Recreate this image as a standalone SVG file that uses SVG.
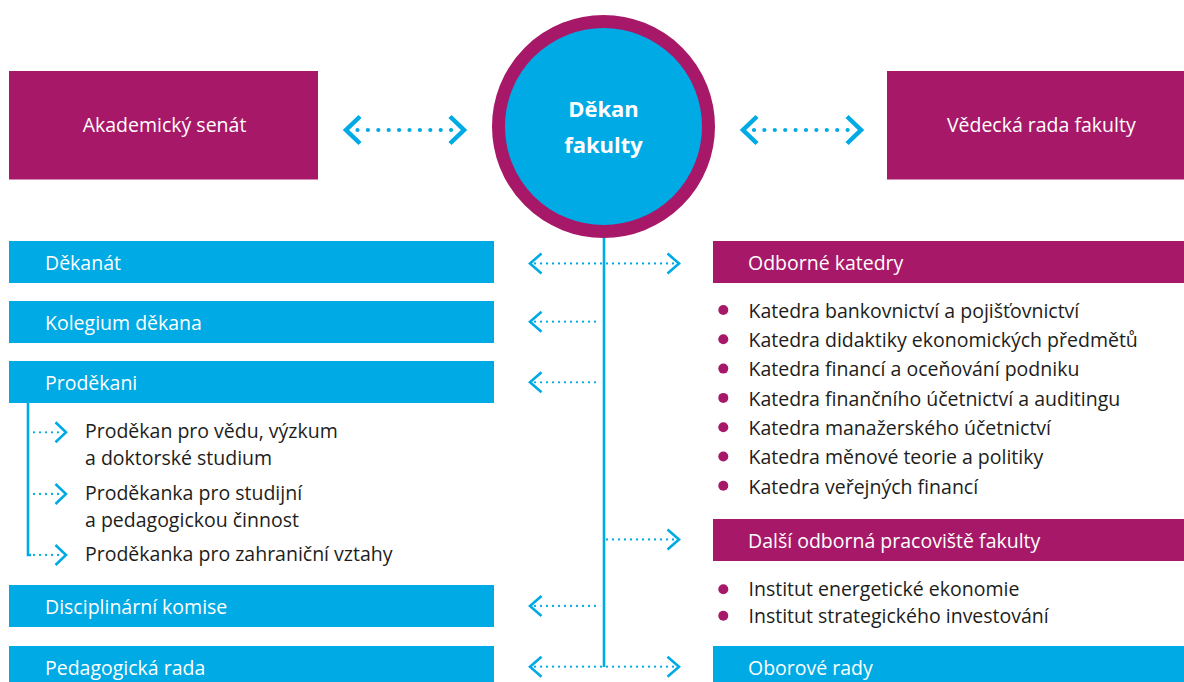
<svg xmlns="http://www.w3.org/2000/svg" width="1184" height="682" viewBox="0 0 1184 682">
<style>
.mag{fill:#A71968}
.blu{fill:#00AAE4}
.t{font-family:"Open Sans","Noto Sans",sans-serif;font-size:19.5px}
.w{fill:#ffffff}
.k{fill:#1d1d1b}
.bul{fill:#A71968}
.dot{stroke:#00AAE4;stroke-width:2.3;stroke-linecap:round;stroke-dasharray:0 6;fill:none}
.bigdot{stroke:#00AAE4;stroke-width:4.2;stroke-linecap:round;stroke-dasharray:0 10.4;fill:none}
.chev{stroke:#00AAE4;stroke-width:2.6;fill:none;stroke-linecap:butt}
.bigchev{stroke:#00AAE4;stroke-width:4.5;fill:none}
.ln{stroke:#00AAE4;stroke-width:2.6;fill:none}
</style>

<g id="connectors">
  <!-- top bidirectional arrows -->
  <line class="bigdot" x1="357.5" y1="130" x2="453" y2="130"/>
  <polyline class="bigchev" points="360,116.5 346,130 360,143.5"/>
  <polyline class="bigchev" points="450,116.5 464,130 450,143.5"/>
  <line class="bigdot" x1="754" y1="130" x2="849.5" y2="130"/>
  <polyline class="bigchev" points="757,116.5 743,130 757,143.5"/>
  <polyline class="bigchev" points="847,116.5 861,130 847,143.5"/>

  <!-- main vertical trunk -->
  <line x1="604" y1="224" x2="604" y2="240" stroke="#ffffff" stroke-width="5"/>
  <line class="ln" x1="604" y1="224" x2="604" y2="667"/>

  <!-- Děkanát (both) -->
  <line class="dot" x1="535" y1="263.5" x2="674" y2="263.5"/>
  <polyline class="chev" points="541.5,253.5 530,263.5 541.5,273.5"/>
  <polyline class="chev" points="667.5,253.5 679,263.5 667.5,273.5"/>
  <!-- Kolegium -->
  <line class="dot" x1="535" y1="321.7" x2="601" y2="321.7"/>
  <polyline class="chev" points="541.5,311.7 530,321.7 541.5,331.7"/>
  <!-- Proděkani -->
  <line class="dot" x1="535" y1="382.3" x2="601" y2="382.3"/>
  <polyline class="chev" points="541.5,372.3 530,382.3 541.5,392.3"/>
  <!-- Další odborná pracoviště -->
  <line class="dot" x1="607" y1="539.5" x2="674" y2="539.5"/>
  <polyline class="chev" points="667.5,529.5 679,539.5 667.5,549.5"/>
  <!-- Disciplinární -->
  <line class="dot" x1="535" y1="606" x2="601" y2="606"/>
  <polyline class="chev" points="541.5,596 530,606 541.5,616"/>
  <!-- Pedagogická / Oborové (both) -->
  <line class="dot" x1="535" y1="666.7" x2="674" y2="666.7"/>
  <polyline class="chev" points="541.5,656.7 530,666.7 541.5,676.7"/>
  <polyline class="chev" points="667.5,656.7 679,666.7 667.5,676.7"/>

  <!-- proděkani branch -->
  <polyline class="ln" points="28,403 28,555 31,555"/>
  <line class="dot" x1="34" y1="432.3" x2="59" y2="432.3"/>
  <polyline class="chev" points="55.5,422.3 66,432.3 55.5,442.3"/>
  <line class="dot" x1="34" y1="494" x2="59" y2="494"/>
  <polyline class="chev" points="55.5,484 66,494 55.5,504"/>
  <line class="dot" x1="34" y1="555" x2="59" y2="555"/>
  <polyline class="chev" points="55.5,545 66,555 55.5,565"/>
</g>

<g id="dekan">
  <circle cx="603.5" cy="126.5" r="105" fill="#00AAE4" stroke="#A71968" stroke-width="13"/>
  <text x="603.5" y="117" text-anchor="middle" font-family="'Open Sans','Noto Sans',sans-serif" font-size="22" font-weight="bold" fill="#ffffff">Děkan</text>
  <text x="603.5" y="153" text-anchor="middle" font-family="'Open Sans','Noto Sans',sans-serif" font-size="22" font-weight="bold" fill="#ffffff">fakulty</text>
</g>

<g id="akademicky-senat">
  <rect class="mag" x="9" y="71" width="309" height="108.5"/>
  <text class="t w" x="164.5" y="131.7" text-anchor="middle">Akademický senát</text>
</g>

<g id="vedecka-rada">
  <rect class="mag" x="887" y="71" width="297" height="108.5"/>
  <text class="t w" x="1041.3" y="131.7" text-anchor="middle">Vědecká rada fakulty</text>
</g>

<g id="dekanat">
  <rect class="blu" x="9" y="241" width="485" height="42"/>
  <text class="t w" x="45" y="270">Děkanát</text>
</g>

<g id="kolegium">
  <rect class="blu" x="9" y="301" width="485" height="42"/>
  <text class="t w" x="45" y="330">Kolegium děkana</text>
</g>

<g id="prodekani">
  <rect class="blu" x="9" y="361" width="485" height="42"/>
  <text class="t w" x="45" y="390">Proděkani</text>
  <text class="t k" x="85" y="438.3">Proděkan pro vědu, výzkum</text>
  <text class="t k" x="85" y="465">a doktorské studium</text>
  <text class="t k" x="85" y="500">Proděkanka pro studijní</text>
  <text class="t k" x="85" y="526.7">a pedagogickou činnost</text>
  <text class="t k" x="85" y="560.5">Proděkanka pro zahraniční vztahy</text>
</g>

<g id="disciplinarni">
  <rect class="blu" x="9" y="585" width="485" height="42"/>
  <text class="t w" x="45" y="613.5">Disciplinární komise</text>
</g>

<g id="pedagogicka">
  <rect class="blu" x="9" y="646" width="485" height="42"/>
  <text class="t w" x="45" y="675">Pedagogická rada</text>
</g>

<g id="odborne-katedry">
  <rect class="mag" x="713" y="241" width="471" height="42"/>
  <text class="t w" x="748" y="270">Odborné katedry</text>
  <circle class="bul" cx="723.3" cy="310" r="5"/>
  <circle class="bul" cx="723.3" cy="339.3" r="5"/>
  <circle class="bul" cx="723.3" cy="368.6" r="5"/>
  <circle class="bul" cx="723.3" cy="397.9" r="5"/>
  <circle class="bul" cx="723.3" cy="427.2" r="5"/>
  <circle class="bul" cx="723.3" cy="456.5" r="5"/>
  <circle class="bul" cx="723.3" cy="485.8" r="5"/>
  <text class="t k" x="748.5" y="317.7">Katedra bankovnictví a pojišťovnictví</text>
  <text class="t k" x="748.5" y="347">Katedra didaktiky ekonomických předmětů</text>
  <text class="t k" x="748.5" y="376.3">Katedra financí a oceňování podniku</text>
  <text class="t k" x="748.5" y="405.6">Katedra finančního účetnictví a auditingu</text>
  <text class="t k" x="748.5" y="434.9">Katedra manažerského účetnictví</text>
  <text class="t k" x="748.5" y="464.2">Katedra měnové teorie a politiky</text>
  <text class="t k" x="748.5" y="493.5">Katedra veřejných financí</text>
</g>

<g id="dalsi-pracoviste">
  <rect class="mag" x="713" y="519" width="471" height="42"/>
  <text class="t w" x="748" y="548.3">Další odborná pracoviště fakulty</text>
  <circle class="bul" cx="723.3" cy="589.3" r="5"/>
  <circle class="bul" cx="723.3" cy="615.7" r="5"/>
  <text class="t k" x="748.5" y="595.7">Institut energetické ekonomie</text>
  <text class="t k" x="748.5" y="623.3">Institut strategického investování</text>
</g>

<g id="oborove-rady">
  <rect class="blu" x="713" y="646" width="471" height="42"/>
  <text class="t w" x="748" y="675">Oborové rady</text>
</g>
</svg>
